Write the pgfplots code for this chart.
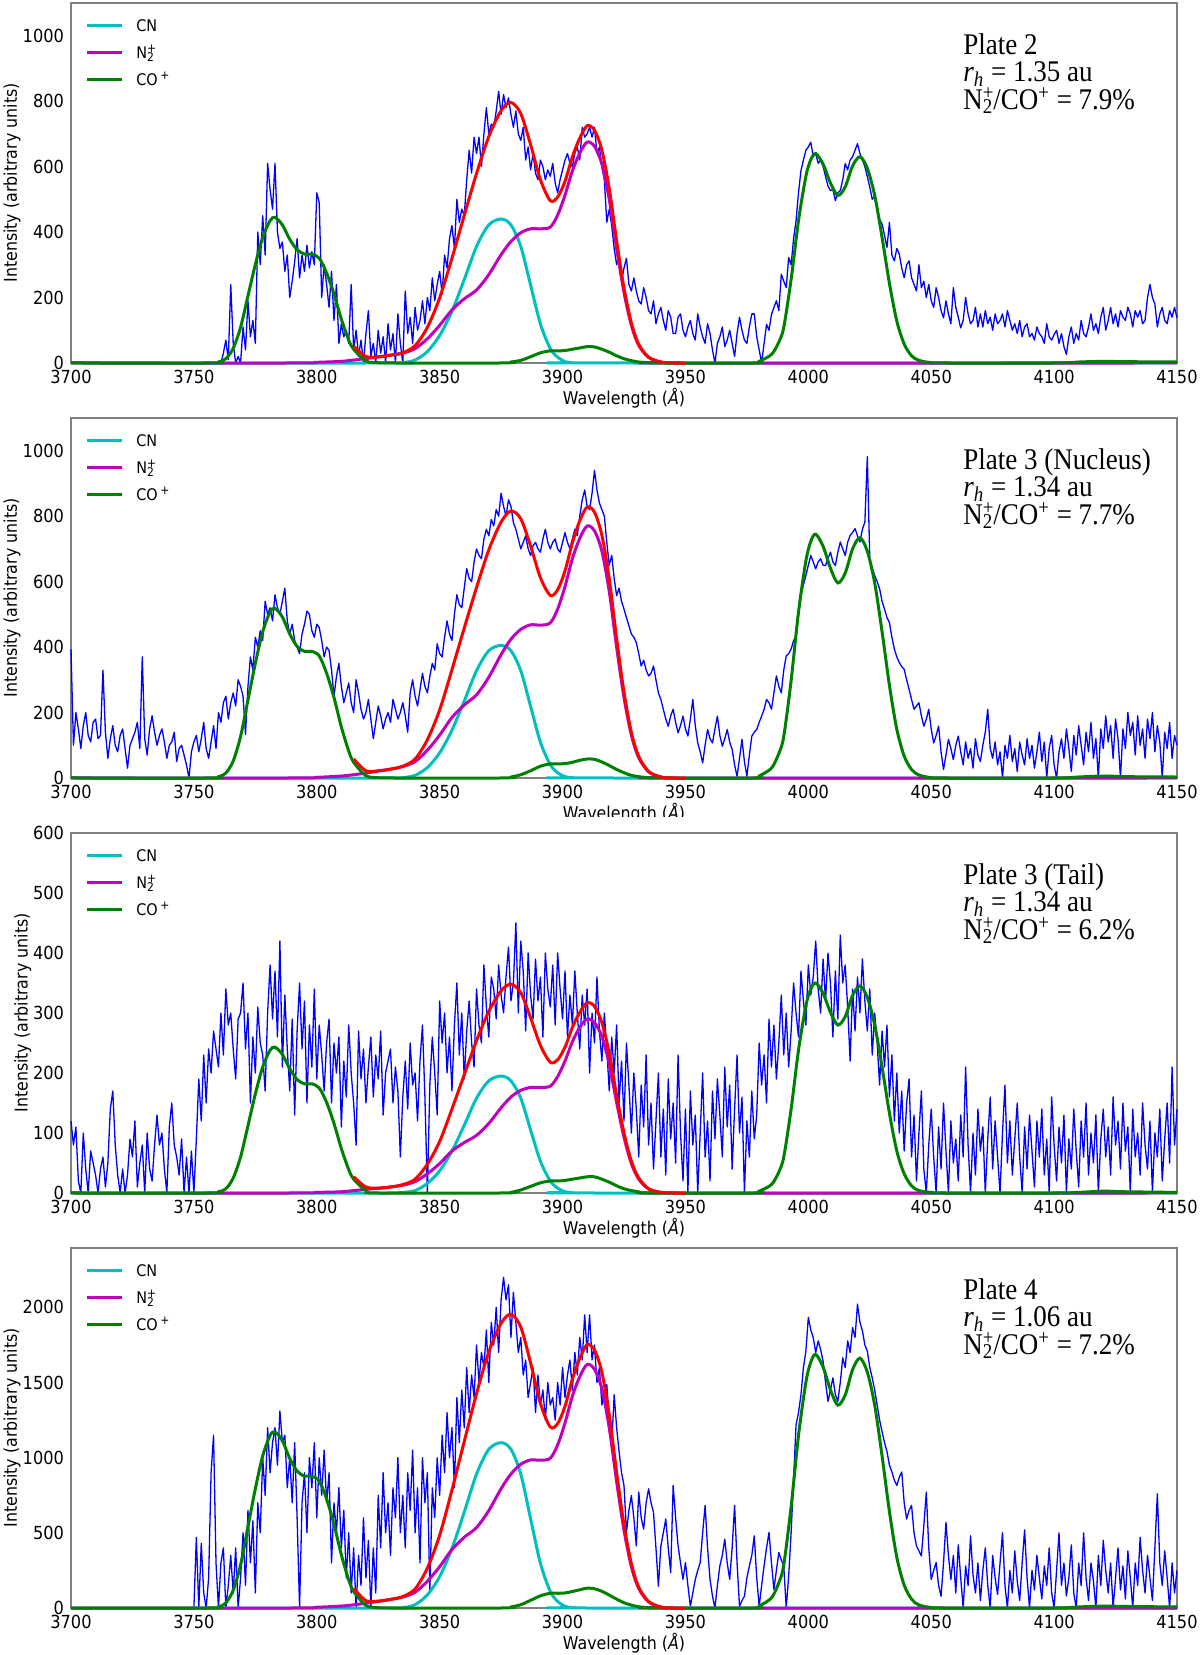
\documentclass[border=0pt]{standalone}
\usepackage{fontspec}
\setmainfont{DejaVu Sans}[FakeStretch=0.9]
\newfontfamily\timesfont{Liberation Serif}[FakeStretch=0.9]
\usepackage{pgfplots}
\pgfplotsset{compat=1.18}
\definecolor{cnc}{rgb}{0,0.75,0.75}
\definecolor{n2c}{rgb}{0.75,0,0.75}
\definecolor{coc}{rgb}{0,0.5,0}
\definecolor{spine}{gray}{0.5}
\pgfplotsset{
 panel/.style={
  scale only axis, width=553pt, height=180pt, anchor=south west,
  xmin=3700, xmax=4150, ymin=0,
  xtick={3700,3750,...,4150},
  axis line style={spine, line width=0.6pt},
  major tick length=0pt,
  tick label style={font=\fontsize{9}{10}\selectfont},
  /pgf/number format/assume math mode=true,
  /pgf/number format/1000 sep={},
  xlabel={Wavelength (\textit{Å})},
  ylabel={Intensity (arbitrary units)},
  label style={font=\fontsize{8.8}{10}\selectfont},
  xlabel style={at={(axis description cs:0.5,0)}, anchor=base, yshift=-20.9pt},
  ylabel style={at={(axis description cs:-0.0533,0.5)}, anchor=center},
  clip=false,
  legend style={draw=none, fill=none, at={(axis description cs:0,1)}, anchor=north west,
    font=\fontsize{8}{9}\selectfont, inner xsep=7pt, inner ysep=6pt, row sep=3.5pt,
    nodes={inner sep=0pt, text height=7.9pt, text depth=2.1pt},
    /tikz/every odd column/.append style={column sep=6.5pt}},
  legend cell align=left,
  legend image code/.code={\draw[##1, line width=1.5pt] (0pt,0pt) -- (17.5pt,0pt);},
 },
 spec/.style={blue, line width=0.65pt, line join=round},
 cnl/.style={cnc, line width=1.5pt, smooth},
 n2l/.style={n2c, line width=1.5pt, smooth},
 col/.style={coc, line width=1.5pt, smooth},
 redl/.style={red, line width=1.5pt, smooth},
}
\newcommand{\plabel}[3]{%
 \node[anchor=base west, inner sep=0pt, yshift=-25.9pt, font=\timesfont\fontsize{15}{16}\selectfont] at (rel axis cs:0.8065,1) {#1};
 \node[anchor=base west, inner sep=0pt, yshift=-39.4pt, font=\timesfont\fontsize{15}{16}\selectfont] at (rel axis cs:0.8065,1) {\textit{r}\textsubscript{\textit{h}} = #2 au};
 \node[anchor=base west, inner sep=0pt, yshift=-53.3pt, font=\timesfont\fontsize{15}{16}\selectfont] at (rel axis cs:0.8065,1) {N\rlap{\textsuperscript{+}}\textsubscript{2}/CO\textsuperscript{+} = #3\%};
}
\newcommand{\leg}{%
 \addlegendimage{cnc}\addlegendentry{CN}
 \addlegendimage{n2c}\addlegendentry{N\rlap{\textsuperscript{+}}\textsubscript{2}}
 \addlegendimage{coc}\addlegendentry{CO\,\textsuperscript{+}}
}
\begin{document}
\begin{tikzpicture}[x=1pt,y=1pt]
\useasboundingbox (0,0) rectangle (600,827.5);
% ---------------- Panel 1 ----------------
\begin{axis}[panel, at={(35.5pt,646pt)}, ymax=1100, ytick={0,200,...,1000}]
\leg
\addplot[spec, forget plot] coordinates {
(3761,0)(3762,30)(3763,70)(3764,10)(3765,240)(3766,60)(3767,0)(3768,20)(3769,0)(3770,110)
(3771,40)(3772,190)(3773,80)(3774,130)(3775,60)(3776,400)(3777,300)(3778,450)(3779,330)(3780,610)
(3781,530)(3782,470)(3783,610)(3784,400)(3785,350)(3786,370)(3787,280)(3788,330)(3789,200)(3790,250)
(3791,310)(3792,380)(3793,260)(3794,330)(3795,280)(3796,360)(3797,290)(3798,340)(3799,300)(3800,520)
(3801,490)(3802,200)(3803,300)(3804,240)(3805,170)(3806,280)(3807,130)(3808,240)(3809,60)(3810,120)
(3811,80)(3812,100)(3813,60)(3814,240)(3815,40)(3816,100)(3817,20)(3818,70)(3819,0)(3820,90)
(3821,160)(3822,20)(3823,60)(3824,0)(3825,100)(3826,30)(3827,80)(3828,0)(3829,120)(3830,40)
(3831,90)(3832,0)(3833,150)(3834,60)(3835,0)(3836,220)(3837,90)(3838,140)(3839,60)(3840,170)
(3841,100)(3842,130)(3843,190)(3844,120)(3845,200)(3846,160)(3847,260)(3848,190)(3849,240)(3850,280)
(3851,210)(3852,330)(3853,290)(3854,380)(3855,420)(3856,350)(3857,500)(3858,430)(3859,470)(3860,450)
(3861,560)(3862,650)(3863,580)(3864,690)(3865,640)(3866,690)(3867,600)(3868,700)(3869,780)(3870,700)
(3871,730)(3872,720)(3873,770)(3874,830)(3875,760)(3876,820)(3877,780)(3878,810)(3879,760)(3880,720)
(3881,770)(3882,700)(3883,680)(3884,720)(3885,620)(3886,660)(3887,590)(3888,640)(3889,580)(3890,560)
(3891,620)(3892,600)(3893,560)(3894,590)(3895,570)(3896,610)(3897,550)(3898,520)(3899,560)(3900,590)
(3901,620)(3902,640)(3903,610)(3904,600)(3905,640)(3906,660)(3907,620)(3908,720)(3909,690)(3910,700)
(3911,720)(3912,690)(3913,720)(3914,640)(3915,660)(3916,600)(3917,560)(3918,430)(3919,470)(3920,420)
(3921,350)(3922,300)(3923,330)(3924,250)(3925,290)(3926,320)(3927,240)(3928,220)(3929,260)(3930,220)
(3931,190)(3932,180)(3933,230)(3934,200)(3935,160)(3936,150)(3937,190)(3938,120)(3939,150)(3940,170)
(3941,130)(3942,100)(3943,160)(3944,140)(3945,90)(3946,90)(3947,140)(3948,150)(3949,100)(3950,80)
(3951,110)(3952,130)(3953,90)(3954,70)(3955,150)(3956,110)(3957,80)(3958,60)(3959,120)(3960,90)
(3961,40)(3962,0)(3963,60)(3964,80)(3965,110)(3966,50)(3967,70)(3968,100)(3969,60)(3970,20)
(3971,90)(3972,140)(3973,100)(3974,70)(3975,60)(3976,110)(3977,150)(3978,150)(3979,80)(3980,40)
(3981,0)(3982,60)(3983,118)(3984,100)(3985,148)(3986,170)(3987,190)(3988,160)(3989,271)(3990,250)
(3991,230)(3992,322)(3993,300)(3994,380)(3995,435)(3996,520)(3997,588)(3998,620)(3999,650)(4000,660)
(4001,675)(4002,630)(4003,640)(4004,610)(4005,620)(4006,600)(4007,570)(4008,540)(4009,527)(4010,530)
(4011,496)(4012,520)(4013,527)(4014,560)(4015,609)(4016,590)(4017,620)(4018,630)(4019,650)(4020,670)
(4021,640)(4022,620)(4023,600)(4024,570)(4025,537)(4026,500)(4027,510)(4028,476)(4029,440)(4030,425)
(4031,390)(4032,353)(4033,430)(4034,330)(4035,312)(4036,350)(4037,333)(4038,290)(4039,261)(4040,300)
(4041,312)(4042,260)(4043,240)(4044,220)(4045,300)(4046,230)(4047,250)(4048,200)(4049,240)(4050,190)
(4051,170)(4052,230)(4053,200)(4054,160)(4055,138)(4056,190)(4057,150)(4058,120)(4059,230)(4060,170)
(4061,140)(4062,107)(4063,130)(4064,200)(4065,150)(4066,120)(4067,130)(4068,170)(4069,110)(4070,150)
(4071,110)(4072,160)(4073,120)(4074,140)(4075,100)(4076,150)(4077,120)(4078,130)(4079,150)(4080,110)
(4081,160)(4082,130)(4083,100)(4084,120)(4085,90)(4086,130)(4087,80)(4088,110)(4089,120)(4090,80)
(4091,90)(4092,70)(4093,110)(4094,90)(4095,80)(4096,60)(4097,120)(4098,80)(4099,70)(4100,87)
(4101,100)(4102,60)(4103,90)(4104,50)(4105,26)(4106,80)(4107,110)(4108,60)(4109,90)(4110,70)
(4111,130)(4112,90)(4113,80)(4114,110)(4115,150)(4116,100)(4117,120)(4118,90)(4119,140)(4120,170)
(4121,100)(4122,130)(4123,170)(4124,120)(4125,150)(4126,110)(4127,160)(4128,140)(4129,130)(4130,170)
(4131,150)(4132,110)(4133,160)(4134,140)(4135,160)(4136,120)(4137,130)(4138,200)(4139,240)(4140,200)
(4141,180)(4142,110)(4143,150)(4144,170)(4145,130)(4146,120)(4147,160)(4148,140)(4149,170)(4150,138)
};
\addplot[cnl, forget plot] coordinates {(3700,0)(3830,0)(3835,1)(3840,9)(3845,35)(3850,84)(3855,158)(3860,255)(3865,356)(3870,422)(3875,440)(3879,422)(3883,356)(3887,238)(3891,119)(3895,44)(3898,18)(3901,4)(3904,1)(3910,0)(4150,0)};
\addplot[n2l, forget plot] coordinates {(3700,0)(3790,0)(3800,2)(3810,5)(3815,9)(3820,13.5)(3825,18)(3830,24)(3835,30)(3840,44)(3845,74)(3850,115)(3855,162)(3860,196)(3865,223)(3870,270)(3875,331)(3879,371)(3883,398)(3887,410)(3891,410)(3895,415)(3898,452)(3901,513)(3904,587)(3907,641)(3910,675)(3913,662)(3916,608)(3919,500)(3922,351)(3925,216)(3928,115)(3931,54)(3935,17)(3940,3)(3945,0)(4150,0)};
\addplot[col, forget plot] coordinates {(3700,0)(3755,0)(3760,3)(3763,13)(3766,45)(3769,109)(3772,205)(3775,301)(3778,384)(3781,435)(3783,445)(3786,422)(3789,378)(3792,346)(3795,333)(3798,333)(3801,320)(3804,275)(3807,211)(3810,134)(3813,70)(3815,42)(3820,6)(3825,1)(3830,0)(3875,0)(3879,3)(3883,8)(3887,19)(3891,31)(3895,37)(3898,37)(3901,38)(3904,42)(3907,46)(3910,50)(3913,49)(3916,42)(3919,33)(3922,22)(3925,13)(3928,7)(3931,3)(3935,1)(3940,0)(3978,0)(3980,5)(3985,26)(3988,64)(3990,109)(3993,256)(3996,435)(3999,570)(4001,621)(4003,640)(4006,608)(4009,550)(4012,512)(4015,538)(4018,602)(4021,630)(4024,595)(4027,512)(4030,384)(4033,243)(4036,128)(4039,58)(4042,22)(4045,8)(4050,1)(4055,0)(4100,0)(4110,3)(4120,5)(4130,4)(4150,3)};
\addplot[redl, forget plot] coordinates {(3815,51)(3820,20)(3825,19)(3830,24)(3835,31)(3840,53)(3845,109)(3850,199)(3855,320)(3860,451)(3865,579)(3870,692)(3875,771)(3879,796)(3883,762)(3887,667)(3891,560)(3895,496)(3898,507)(3901,555)(3904,630)(3907,687)(3910,725)(3913,711)(3916,650)(3919,533)(3922,373)(3925,229)(3928,122)(3931,57)(3935,18)(3940,3)(3945,0)(3950,0)};
\plabel{Plate 2}{1.35}{7.9}
\end{axis}
% ---------------- Panel 2 ----------------
\begin{axis}[panel, at={(35.5pt,438.5pt)}, ymax=1100, ytick={0,200,...,1000}]
\leg
\addplot[spec, forget plot] coordinates {
(3700,394)(3701,100)(3702,200)(3703,150)(3704,90)(3705,160)(3706,200)(3707,130)(3708,110)(3709,170)
(3710,180)(3711,120)(3712,130)(3713,330)(3714,140)(3715,60)(3716,120)(3717,160)(3718,100)(3719,80)
(3720,130)(3721,150)(3722,90)(3723,30)(3724,100)(3725,120)(3726,140)(3727,170)(3728,90)(3729,370)
(3730,120)(3731,70)(3732,150)(3733,190)(3734,140)(3735,100)(3736,130)(3737,150)(3738,110)(3739,60)
(3740,100)(3741,110)(3742,140)(3743,50)(3744,90)(3745,100)(3746,70)(3747,40)(3748,0)(3749,80)
(3750,110)(3751,130)(3752,80)(3753,120)(3754,170)(3755,90)(3756,60)(3757,110)(3758,160)(3759,90)
(3760,200)(3761,170)(3762,230)(3763,250)(3764,180)(3765,230)(3766,260)(3767,220)(3768,300)(3769,280)
(3770,250)(3771,133)(3772,280)(3773,370)(3774,330)(3775,430)(3776,400)(3777,450)(3778,420)(3779,540)
(3780,500)(3781,520)(3782,480)(3783,560)(3784,520)(3785,500)(3786,540)(3787,580)(3788,480)(3789,440)
(3790,470)(3791,420)(3792,400)(3793,380)(3794,440)(3795,470)(3796,510)(3797,500)(3798,450)(3799,430)
(3800,470)(3801,460)(3802,420)(3803,370)(3804,400)(3805,390)(3806,330)(3807,250)(3808,310)(3809,350)
(3810,280)(3811,230)(3812,260)(3813,290)(3814,230)(3815,200)(3816,300)(3817,260)(3818,210)(3819,180)
(3820,200)(3821,240)(3822,180)(3823,120)(3824,170)(3825,220)(3826,190)(3827,150)(3828,180)(3829,200)
(3830,170)(3831,240)(3832,210)(3833,180)(3834,200)(3835,230)(3836,190)(3837,140)(3838,260)(3839,300)
(3840,250)(3841,220)(3842,270)(3843,320)(3844,280)(3845,260)(3846,310)(3847,350)(3848,330)(3849,410)
(3850,380)(3851,370)(3852,430)(3853,480)(3854,440)(3855,420)(3856,500)(3857,560)(3858,530)(3859,520)
(3860,580)(3861,640)(3862,610)(3863,600)(3864,660)(3865,700)(3866,680)(3867,670)(3868,730)(3869,760)
(3870,740)(3871,790)(3872,770)(3873,820)(3874,800)(3875,870)(3876,830)(3877,800)(3878,850)(3879,830)
(3880,780)(3881,760)(3882,730)(3883,700)(3884,720)(3885,740)(3886,700)(3887,680)(3888,710)(3889,720)
(3890,700)(3891,690)(3892,730)(3893,760)(3894,720)(3895,700)(3896,720)(3897,730)(3898,700)(3899,690)
(3900,720)(3901,750)(3902,720)(3903,700)(3904,730)(3905,760)(3906,740)(3907,800)(3908,850)(3909,880)
(3910,830)(3911,820)(3912,870)(3913,940)(3914,880)(3915,840)(3916,820)(3917,800)(3918,720)(3919,650)
(3920,680)(3921,610)(3922,557)(3923,580)(3924,540)(3925,516)(3926,490)(3927,465)(3928,440)(3929,430)
(3930,414)(3931,380)(3932,342)(3933,360)(3934,330)(3935,312)(3936,320)(3937,342)(3938,300)(3939,260)
(3940,240)(3941,210)(3942,180)(3943,158)(3944,190)(3945,210)(3946,170)(3947,138)(3948,160)(3949,189)
(3950,150)(3951,128)(3952,180)(3953,240)(3954,160)(3955,107)(3956,80)(3957,46)(3958,100)(3959,148)
(3960,120)(3961,107)(3962,150)(3963,189)(3964,130)(3965,97)(3966,120)(3967,148)(3968,110)(3969,87)
(3970,40)(3971,5)(3972,60)(3973,118)(3974,50)(3975,5)(3976,70)(3977,128)(3978,140)(3979,148)
(3980,170)(3981,189)(3982,210)(3983,240)(3984,230)(3985,210)(3986,260)(3987,312)(3988,280)(3989,260)
(3990,330)(3991,373)(3992,380)(3993,394)(3994,420)(3995,435)(3996,500)(3997,557)(3998,590)(3999,619)
(4000,650)(4001,680)(4002,660)(4003,639)(4004,660)(4005,670)(4006,650)(4007,649)(4008,670)(4009,690)
(4010,660)(4011,649)(4012,690)(4013,721)(4014,700)(4015,680)(4016,720)(4017,741)(4018,750)(4019,762)
(4020,740)(4021,721)(4022,760)(4023,782)(4024,982)(4025,670)(4026,640)(4027,619)(4028,600)(4029,578)
(4030,540)(4031,516)(4032,490)(4033,475)(4034,430)(4035,394)(4036,370)(4037,353)(4038,340)(4039,332)
(4040,300)(4041,271)(4042,240)(4043,210)(4044,220)(4045,230)(4046,190)(4047,158)(4048,180)(4049,210)
(4050,150)(4051,107)(4052,130)(4053,158)(4054,80)(4055,26)(4056,70)(4057,118)(4058,90)(4059,56)
(4060,100)(4061,128)(4062,80)(4063,40)(4064,110)(4065,60)(4066,90)(4067,30)(4068,120)(4069,70)
(4070,50)(4071,100)(4072,140)(4073,210)(4074,90)(4075,60)(4076,110)(4077,40)(4078,80)(4079,0)
(4080,100)(4081,60)(4082,130)(4083,50)(4084,90)(4085,20)(4086,110)(4087,70)(4088,40)(4089,120)
(4090,60)(4091,100)(4092,30)(4093,80)(4094,140)(4095,50)(4096,110)(4097,0)(4098,90)(4099,130)
(4100,40)(4101,0)(4102,80)(4103,120)(4104,60)(4105,150)(4106,90)(4107,20)(4108,130)(4109,70)
(4110,160)(4111,100)(4112,40)(4113,140)(4114,80)(4115,170)(4116,60)(4117,120)(4118,0)(4119,150)
(4120,90)(4121,190)(4122,110)(4123,160)(4124,60)(4125,180)(4126,120)(4127,0)(4128,150)(4129,90)
(4130,200)(4131,130)(4132,170)(4133,70)(4134,190)(4135,100)(4136,150)(4137,60)(4138,180)(4139,120)
(4140,200)(4141,80)(4142,160)(4143,110)(4144,0)(4145,140)(4146,90)(4147,170)(4148,60)(4149,130)(4150,100)
};
\addplot[cnl, forget plot] coordinates {(3700,0)(3830,0)(3835,1)(3840,8)(3845,32)(3850,77)(3855,146)(3860,235)(3865,328)(3870,389)(3875,405)(3879,389)(3883,328)(3887,219)(3891,109)(3895,41)(3898,16)(3901,4)(3904,1)(3910,0)(4150,0)};
\addplot[n2l, forget plot] coordinates {(3700,0)(3790,0)(3800,2)(3810,6)(3815,10)(3820,15)(3825,21)(3830,27)(3835,35)(3840,50)(3845,85)(3850,131)(3855,185)(3860,223)(3865,254)(3870,308)(3875,377)(3879,424)(3883,454)(3887,468)(3891,467)(3895,474)(3898,516)(3901,585)(3904,670)(3907,732)(3910,770)(3913,755)(3916,693)(3919,570)(3922,400)(3925,246)(3928,131)(3931,62)(3935,19)(3940,3)(3945,0)(4150,0)};
\addplot[col, forget plot] coordinates {(3700,0)(3755,0)(3760,4)(3763,15)(3766,52)(3769,127)(3772,238)(3775,350)(3778,447)(3781,507)(3783,518)(3786,492)(3789,440)(3792,402)(3795,387)(3798,387)(3801,373)(3804,320)(3807,246)(3810,156)(3813,82)(3815,48)(3820,7)(3825,1)(3830,0)(3875,0)(3879,3)(3883,10)(3887,22)(3891,36)(3895,43)(3898,43)(3901,44)(3904,48)(3907,54)(3910,58)(3913,57)(3916,49)(3919,38)(3922,26)(3925,16)(3928,8)(3931,4)(3935,1)(3940,0)(3978,0)(3980,6)(3985,30)(3988,75)(3990,127)(3993,298)(3996,507)(3999,663)(4001,723)(4003,745)(4006,708)(4009,641)(4012,596)(4015,626)(4018,700)(4021,734)(4024,693)(4027,596)(4030,447)(4033,283)(4036,149)(4039,67)(4042,26)(4045,9)(4050,1)(4055,0)(4100,0)(4110,3)(4120,6)(4130,4)(4150,3)};
\addplot[redl, forget plot] coordinates {(3815,58)(3820,22)(3825,22)(3830,27)(3835,36)(3840,58)(3845,117)(3850,208)(3855,331)(3860,458)(3865,582)(3870,697)(3875,782)(3879,816)(3883,792)(3887,709)(3891,612)(3895,558)(3898,575)(3901,633)(3904,719)(3907,786)(3910,828)(3913,812)(3916,742)(3919,608)(3922,426)(3925,262)(3928,139)(3931,66)(3935,20)(3940,3)(3945,0)(3950,0)};
\plabel{Plate 3 (Nucleus)}{1.34}{7.7}
\end{axis}
% the next figure hides the lower part of the label above it
\fill[white] (0,411.2) rectangle (600,419.2);
% ---------------- Panel 3 ----------------
\begin{axis}[panel, at={(35.5pt,231pt)}, ymax=600, ytick={0,100,...,600},
  ylabel style={at={(axis description cs:-0.0437,0.5)}}]
\leg
\addplot[spec, forget plot] coordinates {
(3700,120)(3701,80)(3702,110)(3703,20)(3704,0)(3705,100)(3706,40)(3707,0)(3708,70)(3709,50)
(3710,30)(3711,0)(3712,40)(3713,60)(3714,10)(3715,50)(3716,140)(3717,170)(3718,80)(3719,30)
(3720,0)(3721,40)(3722,0)(3723,30)(3724,90)(3725,60)(3726,120)(3727,10)(3728,50)(3729,80)
(3730,0)(3731,100)(3732,40)(3733,20)(3734,80)(3735,130)(3736,80)(3737,100)(3738,40)(3739,0)
(3740,110)(3741,150)(3742,80)(3743,60)(3744,30)(3745,90)(3746,0)(3747,60)(3748,0)(3749,70)
(3750,0)(3751,90)(3752,190)(3753,120)(3754,230)(3755,150)(3756,240)(3757,200)(3758,270)(3759,240)
(3760,210)(3761,300)(3762,230)(3763,340)(3764,280)(3765,300)(3766,240)(3767,190)(3768,290)(3769,300)
(3770,350)(3771,240)(3772,300)(3773,150)(3774,260)(3775,200)(3776,310)(3777,250)(3778,230)(3779,170)
(3780,300)(3781,380)(3782,290)(3783,370)(3784,260)(3785,420)(3786,210)(3787,330)(3788,240)(3789,170)
(3790,290)(3791,130)(3792,270)(3793,350)(3794,240)(3795,320)(3796,150)(3797,280)(3798,210)(3799,340)
(3800,190)(3801,280)(3802,230)(3803,170)(3804,250)(3805,290)(3806,150)(3807,250)(3808,200)(3809,260)
(3810,110)(3811,220)(3812,160)(3813,280)(3814,200)(3815,150)(3816,80)(3817,270)(3818,190)(3819,240)
(3820,150)(3821,210)(3822,260)(3823,160)(3824,230)(3825,190)(3826,270)(3827,130)(3828,200)(3829,220)
(3830,240)(3831,150)(3832,210)(3833,170)(3834,60)(3835,160)(3836,220)(3837,140)(3838,250)(3839,180)
(3840,200)(3841,120)(3842,220)(3843,280)(3844,160)(3845,0)(3846,180)(3847,260)(3848,200)(3849,130)
(3850,320)(3851,250)(3852,300)(3853,200)(3854,260)(3855,170)(3856,280)(3857,350)(3858,230)(3859,300)
(3860,190)(3861,270)(3862,320)(3863,250)(3864,210)(3865,340)(3866,280)(3867,250)(3868,380)(3869,310)
(3870,260)(3871,360)(3872,340)(3873,290)(3874,380)(3875,330)(3876,300)(3877,360)(3878,410)(3879,320)
(3880,350)(3881,450)(3882,300)(3883,420)(3884,370)(3885,270)(3886,400)(3887,330)(3888,290)(3889,390)
(3890,320)(3891,360)(3892,260)(3893,400)(3894,340)(3895,310)(3896,380)(3897,280)(3898,400)(3899,340)
(3900,290)(3901,370)(3902,260)(3903,330)(3904,280)(3905,370)(3906,300)(3907,240)(3908,330)(3909,280)
(3910,340)(3911,200)(3912,300)(3913,250)(3914,360)(3915,270)(3916,220)(3917,300)(3918,240)(3919,170)
(3920,260)(3921,200)(3922,280)(3923,150)(3924,220)(3925,120)(3926,250)(3927,180)(3928,100)(3929,200)
(3930,140)(3931,60)(3932,180)(3933,110)(3934,230)(3935,80)(3936,150)(3937,40)(3938,120)(3939,200)
(3940,60)(3941,140)(3942,30)(3943,190)(3944,90)(3945,150)(3946,50)(3947,230)(3948,100)(3949,20)
(3950,140)(3951,0)(3952,170)(3953,80)(3954,130)(3955,0)(3956,100)(3957,200)(3958,60)(3959,120)
(3960,20)(3961,170)(3962,90)(3963,190)(3964,130)(3965,60)(3966,210)(3967,110)(3968,180)(3969,40)
(3970,140)(3971,230)(3972,100)(3973,160)(3974,0)(3975,120)(3976,60)(3977,170)(3978,90)(3979,130)
(3980,250)(3981,180)(3982,230)(3983,150)(3984,290)(3985,210)(3986,280)(3987,190)(3988,250)(3989,330)
(3990,230)(3991,300)(3992,210)(3993,270)(3994,350)(3995,300)(3996,260)(3997,370)(3998,320)(3999,280)
(4000,380)(4001,330)(4002,360)(4003,420)(4004,340)(4005,300)(4006,390)(4007,320)(4008,400)(4009,350)
(4010,260)(4011,370)(4012,290)(4013,430)(4014,350)(4015,380)(4016,310)(4017,220)(4018,340)(4019,270)
(4020,360)(4021,300)(4022,390)(4023,320)(4024,270)(4025,340)(4026,230)(4027,300)(4028,250)(4029,180)
(4030,270)(4031,210)(4032,280)(4033,160)(4034,230)(4035,120)(4036,200)(4037,100)(4038,170)(4039,70)
(4040,150)(4041,190)(4042,60)(4043,130)(4044,20)(4045,100)(4046,170)(4047,40)(4048,0)(4049,80)
(4050,140)(4051,60)(4052,0)(4053,110)(4054,40)(4055,150)(4056,70)(4057,0)(4058,120)(4059,50)
(4060,90)(4061,20)(4062,130)(4063,60)(4064,210)(4065,80)(4066,0)(4067,100)(4068,30)(4069,140)
(4070,70)(4071,110)(4072,0)(4073,90)(4074,160)(4075,40)(4076,120)(4077,60)(4078,0)(4079,100)
(4080,180)(4081,50)(4082,120)(4083,30)(4084,90)(4085,150)(4086,60)(4087,0)(4088,110)(4089,40)
(4090,130)(4091,70)(4092,10)(4093,120)(4094,60)(4095,140)(4096,30)(4097,90)(4098,0)(4099,160)
(4100,80)(4101,20)(4102,110)(4103,50)(4104,130)(4105,0)(4106,90)(4107,40)(4108,140)(4109,70)
(4110,10)(4111,120)(4112,60)(4113,150)(4114,30)(4115,100)(4116,50)(4117,130)(4118,0)(4119,90)
(4120,140)(4121,60)(4122,110)(4123,30)(4124,160)(4125,80)(4126,120)(4127,40)(4128,150)(4129,70)
(4130,110)(4131,0)(4132,140)(4133,60)(4134,100)(4135,30)(4136,150)(4137,80)(4138,40)(4139,120)
(4140,0)(4141,100)(4142,60)(4143,140)(4144,20)(4145,90)(4146,150)(4147,50)(4148,210)(4149,80)(4150,140)
};
\addplot[cnl, forget plot] coordinates {(3700,0)(3830,0)(3835,1)(3840,4)(3845,16)(3850,37)(3855,70)(3860,113)(3865,158)(3870,187)(3875,195)(3879,187)(3883,158)(3887,105)(3891,53)(3895,20)(3898,8)(3901,2)(3904,1)(3910,0)(4150,0)};
\addplot[n2l, forget plot] coordinates {(3700,0)(3790,0)(3800,1)(3810,2)(3815,4)(3820,6)(3825,8)(3830,10)(3835,13)(3840,19)(3845,32)(3850,49)(3855,70)(3860,84)(3865,96)(3870,116)(3875,142)(3879,160)(3883,171)(3887,176)(3891,176)(3895,178)(3898,194)(3901,220)(3904,252)(3907,276)(3910,290)(3913,284)(3916,261)(3919,215)(3922,151)(3925,93)(3928,49)(3931,23)(3935,7)(3940,1)(3945,0)(4150,0)};
\addplot[col, forget plot] coordinates {(3700,0)(3755,0)(3760,2)(3763,7)(3766,25)(3769,60)(3772,112)(3775,165)(3778,210)(3781,238)(3783,243)(3786,231)(3789,207)(3792,189)(3795,182)(3798,182)(3801,175)(3804,151)(3807,116)(3810,74)(3813,39)(3815,23)(3820,4)(3825,0)(3875,0)(3879,1)(3883,5)(3887,11)(3891,17)(3895,20)(3898,20)(3901,21)(3904,23)(3907,25)(3910,27)(3913,27)(3916,23)(3919,18)(3922,12)(3925,7)(3928,4)(3931,2)(3935,0)(3978,0)(3980,3)(3985,14)(3988,35)(3990,60)(3993,140)(3996,238)(3999,312)(4001,340)(4003,350)(4006,333)(4009,301)(4012,280)(4015,294)(4018,329)(4021,345)(4024,326)(4027,280)(4030,210)(4033,133)(4036,70)(4039,32)(4042,12)(4045,4)(4050,1)(4055,0)(4100,0)(4110,1)(4120,3)(4130,2)(4150,1)};
\addplot[redl, forget plot] coordinates {(3815,27)(3820,10)(3825,8)(3830,10)(3835,14)(3840,23)(3845,48)(3850,86)(3855,140)(3860,197)(3865,254)(3870,303)(3875,337)(3879,348)(3883,334)(3887,292)(3891,246)(3895,218)(3898,222)(3901,243)(3904,276)(3907,301)(3910,317)(3913,311)(3916,284)(3919,233)(3922,163)(3925,100)(3928,53)(3931,25)(3935,7)(3940,1)(3945,0)(3950,0)};
\plabel{Plate 3 (Tail)}{1.34}{6.2}
\end{axis}
% ---------------- Panel 4 ----------------
\begin{axis}[panel, at={(35.5pt,23.5pt)}, ymax=2395, ytick={0,500,...,2000}]
\leg
\addplot[spec, forget plot] coordinates {
(3750,0)(3751,470)(3752,0)(3753,430)(3754,100)(3755,0)(3756,200)(3757,900)(3758,1150)(3759,300)
(3760,0)(3761,300)(3762,400)(3763,0)(3764,150)(3765,350)(3766,100)(3767,400)(3768,0)(3769,200)
(3770,500)(3771,150)(3772,650)(3773,300)(3774,580)(3775,100)(3776,700)(3777,500)(3778,1000)(3779,750)
(3780,1200)(3781,900)(3782,1100)(3783,1200)(3784,950)(3785,1310)(3786,1100)(3787,1150)(3788,800)(3789,1000)
(3790,700)(3791,1100)(3792,600)(3793,0)(3794,700)(3795,900)(3796,500)(3797,1000)(3798,800)(3799,1100)
(3800,600)(3801,1000)(3802,750)(3803,1050)(3804,700)(3805,900)(3806,300)(3807,700)(3808,500)(3809,800)
(3810,400)(3811,650)(3812,200)(3813,500)(3814,100)(3815,400)(3816,0)(3817,350)(3818,150)(3819,600)
(3820,200)(3821,450)(3822,0)(3823,400)(3824,100)(3825,750)(3826,400)(3827,900)(3828,500)(3829,700)
(3830,350)(3831,800)(3832,600)(3833,1000)(3834,500)(3835,750)(3836,400)(3837,900)(3838,650)(3839,1050)
(3840,500)(3841,800)(3842,300)(3843,1000)(3844,700)(3845,900)(3846,100)(3847,800)(3848,600)(3849,1000)
(3850,750)(3851,1150)(3852,900)(3853,1300)(3854,1000)(3855,1200)(3856,800)(3857,1400)(3858,1100)(3859,1450)
(3860,1200)(3861,1600)(3862,1300)(3863,1550)(3864,1400)(3865,1750)(3866,1500)(3867,1700)(3868,1600)(3869,1850)
(3870,1500)(3871,1900)(3872,1750)(3873,2000)(3874,1700)(3875,2050)(3876,2200)(3877,2050)(3878,2150)(3879,1800)
(3880,2100)(3881,1900)(3882,1700)(3883,1800)(3884,1550)(3885,1650)(3886,1400)(3887,1500)(3888,1600)(3889,1300)
(3890,1550)(3891,1350)(3892,1450)(3893,1250)(3894,1500)(3895,1350)(3896,1400)(3897,1250)(3898,1500)(3899,1350)
(3900,1600)(3901,1400)(3902,1550)(3903,1650)(3904,1450)(3905,1700)(3906,1550)(3907,1800)(3908,1650)(3909,1950)
(3910,1700)(3911,1950)(3912,1650)(3913,1750)(3914,1500)(3915,1600)(3916,1350)(3917,1450)(3918,1486)(3919,1250)
(3920,1084)(3921,1419)(3922,1200)(3923,1040)(3924,900)(3925,815)(3926,503)(3927,650)(3928,748)(3929,600)
(3930,413)(3931,771)(3932,600)(3933,525)(3934,700)(3935,793)(3936,700)(3937,637)(3938,400)(3939,145)
(3940,413)(3941,500)(3942,592)(3943,400)(3944,235)(3945,815)(3946,600)(3947,413)(3948,300)(3949,190)
(3950,302)(3951,150)(3952,11)(3953,100)(3954,190)(3955,250)(3956,302)(3957,500)(3958,682)(3959,400)
(3960,190)(3961,80)(3962,0)(3963,150)(3964,280)(3965,350)(3966,458)(3967,300)(3968,190)(3969,400)
(3970,682)(3971,300)(3972,11)(3973,50)(3974,78)(3975,200)(3976,280)(3977,350)(3978,480)(3979,200)
(3980,11)(3981,150)(3982,280)(3983,400)(3984,503)(3985,300)(3986,123)(3987,250)(3988,369)(3989,320)
(3990,280)(3991,0)(3992,212)(3993,500)(3994,860)(3995,1218)(3996,1300)(3997,1419)(3998,1600)(3999,1709)
(4000,1933)(4001,1850)(4002,1799)(4003,1700)(4004,1777)(4005,1720)(4006,1642)(4007,1500)(4008,1374)(4009,1450)
(4010,1531)(4011,1420)(4012,1374)(4013,1500)(4014,1665)(4015,1600)(4016,1777)(4017,1700)(4018,1866)(4019,1800)
(4020,2022)(4021,1900)(4022,1844)(4023,1750)(4024,1709)(4025,1600)(4026,1531)(4027,1450)(4028,1352)(4029,1250)
(4030,1173)(4031,1100)(4032,1040)(4033,950)(4034,905)(4035,850)(4036,815)(4037,870)(4038,905)(4039,700)
(4040,592)(4041,650)(4042,682)(4043,500)(4044,413)(4045,380)(4046,346)(4047,550)(4048,771)(4049,400)
(4050,190)(4051,250)(4052,302)(4053,150)(4054,78)(4055,300)(4056,570)(4057,350)(4058,190)(4059,350)
(4060,100)(4061,420)(4062,200)(4063,0)(4064,280)(4065,150)(4066,480)(4067,220)(4068,100)(4069,300)
(4070,50)(4071,250)(4072,400)(4073,150)(4074,0)(4075,350)(4076,200)(4077,90)(4078,300)(4079,500)
(4080,150)(4081,0)(4082,250)(4083,100)(4084,380)(4085,180)(4086,50)(4087,300)(4088,520)(4089,200)
(4090,0)(4091,250)(4092,120)(4093,350)(4094,200)(4095,60)(4096,280)(4097,150)(4098,400)(4099,100)
(4100,0)(4101,250)(4102,500)(4103,150)(4104,300)(4105,80)(4106,200)(4107,420)(4108,100)(4109,0)
(4110,300)(4111,150)(4112,500)(4113,200)(4114,50)(4115,300)(4116,180)(4117,0)(4118,350)(4119,150)
(4120,450)(4121,250)(4122,100)(4123,300)(4124,0)(4125,200)(4126,400)(4127,120)(4128,280)(4129,60)
(4130,380)(4131,200)(4132,0)(4133,300)(4134,150)(4135,470)(4136,250)(4137,100)(4138,350)(4139,200)
(4140,50)(4141,400)(4142,760)(4143,300)(4144,150)(4145,380)(4146,200)(4147,0)(4148,300)(4149,100)(4150,250)
};
\addplot[cnl, forget plot] coordinates {(3700,0)(3830,0)(3835,3)(3840,22)(3845,88)(3850,209)(3855,396)(3860,638)(3865,891)(3870,1056)(3875,1100)(3879,1056)(3883,891)(3887,594)(3891,297)(3895,110)(3898,44)(3901,11)(3904,3)(3910,0)(4150,0)};
\addplot[n2l, forget plot] coordinates {(3700,0)(3790,0)(3800,5)(3810,13)(3815,21)(3820,32)(3825,44)(3830,57)(3835,73)(3840,105)(3845,178)(3850,275)(3855,389)(3860,470)(3865,535)(3870,648)(3875,794)(3879,891)(3883,956)(3887,985)(3891,983)(3895,996)(3898,1085)(3901,1231)(3904,1409)(3907,1539)(3910,1620)(3913,1588)(3916,1458)(3919,1199)(3922,842)(3925,518)(3928,275)(3931,130)(3935,41)(3940,6)(3945,0)(4150,0)};
\addplot[col, forget plot] coordinates {(3700,0)(3755,0)(3760,8)(3763,34)(3766,118)(3769,287)(3772,540)(3775,793)(3778,1012)(3781,1147)(3783,1172)(3786,1113)(3789,995)(3792,911)(3795,877)(3798,877)(3801,844)(3804,725)(3807,557)(3810,354)(3813,186)(3815,110)(3820,17)(3825,2)(3830,0)(3875,0)(3879,7)(3883,22)(3887,51)(3891,81)(3895,98)(3898,98)(3901,100)(3904,110)(3907,121)(3910,132)(3913,128)(3916,111)(3919,86)(3922,59)(3925,35)(3928,19)(3931,8)(3935,2)(3940,0)(3978,0)(3980,13)(3985,67)(3988,169)(3990,287)(3993,675)(3996,1147)(3999,1501)(4001,1636)(4003,1687)(4006,1603)(4009,1451)(4012,1350)(4015,1417)(4018,1586)(4021,1662)(4024,1569)(4027,1350)(4030,1012)(4033,641)(4036,337)(4039,152)(4042,59)(4045,20)(4050,3)(4055,0)(4100,0)(4110,7)(4120,13)(4130,10)(4150,7)};
\addplot[redl, forget plot] coordinates {(3815,131)(3820,49)(3825,46)(3830,57)(3835,76)(3840,127)(3845,266)(3850,484)(3855,785)(3860,1108)(3865,1426)(3870,1704)(3875,1894)(3879,1954)(3883,1869)(3887,1630)(3891,1361)(3895,1204)(3898,1227)(3901,1342)(3904,1522)(3907,1660)(3910,1752)(3913,1716)(3916,1569)(3919,1285)(3922,901)(3925,553)(3928,294)(3931,138)(3935,43)(3940,6)(3945,0)(3950,0)};
\plabel{Plate 4}{1.06}{7.2}
\end{axis}
\end{tikzpicture}
\end{document}
